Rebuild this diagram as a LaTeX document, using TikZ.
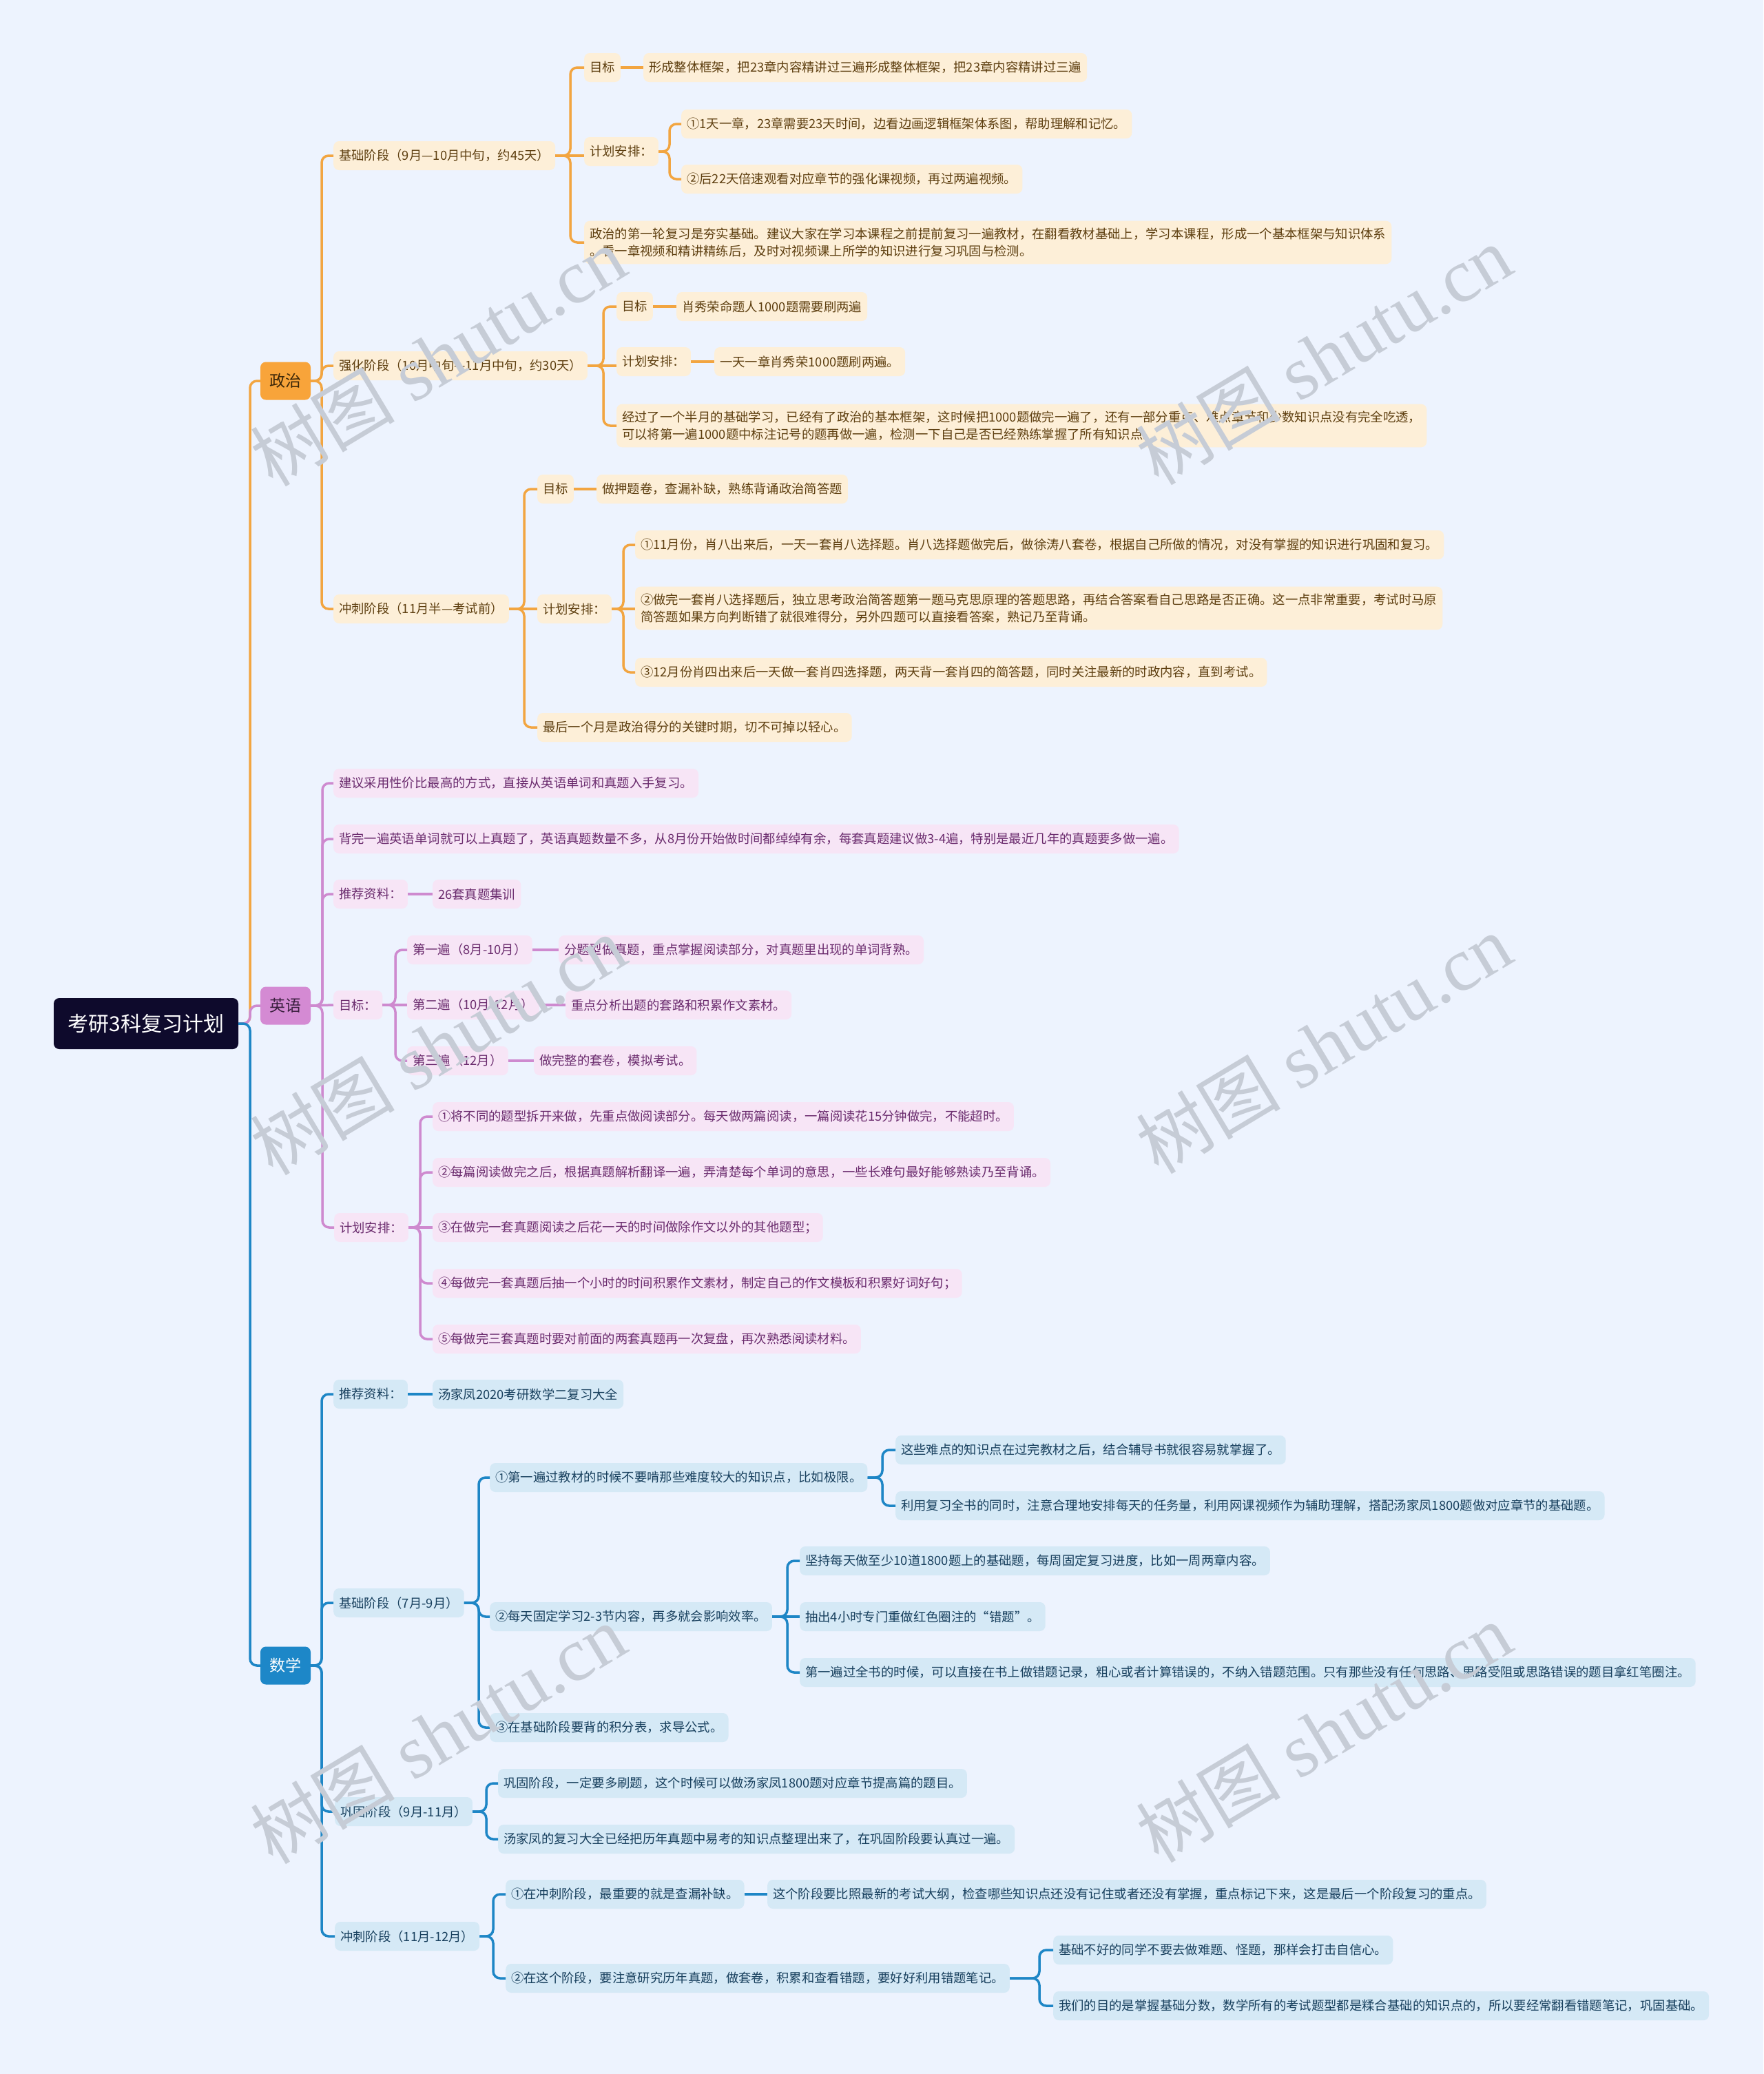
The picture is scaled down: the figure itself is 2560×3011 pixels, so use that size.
\documentclass[tikz,border=0pt]{standalone}
\usepackage{fontspec}
\newfontfamily\cjk{Noto Sans CJK SC}
\newfontfamily\wmf{Liberation Serif}
\definecolor{bgc}{HTML}{EDF3FE}
\definecolor{rootf}{HTML}{0E0A2C}
\definecolor{pmf}{HTML}{F8A43A}
\definecolor{pmt}{HTML}{3A2608}
\definecolor{pzf}{HTML}{FDEFD8}
\definecolor{pzt}{HTML}{5E3F10}
\definecolor{loc}{HTML}{F2A541}
\definecolor{emf}{HTML}{D48AD3}
\definecolor{emt}{HTML}{3A1F3E}
\definecolor{enf}{HTML}{F7E5F6}
\definecolor{ent}{HTML}{6B2C6E}
\definecolor{lpc}{HTML}{CE8ACF}
\definecolor{mmf}{HTML}{1D87C8}
\definecolor{maf}{HTML}{D5E9F6}
\definecolor{mat}{HTML}{18405E}
\definecolor{lbc}{HTML}{1E86C6}
\definecolor{wmc}{HTML}{C6CCD6}
\newcommand\lnk[4]{\draw[#1] (#2.east) -- (#2.east -| #4) |- (#3.west);}
\begin{document}
\begin{tikzpicture}[x=1pt,y=-1pt,
  base/.style={rounded corners=8pt,inner xsep=8pt,inner ysep=10pt,minimum height=42pt,anchor=west,align=left,font=\cjk\fontsize{18.35}{25}\selectfont},
  pz/.style={base,fill=pzf,text=pzt},
  en/.style={base,fill=enf,text=ent},
  ma/.style={base,fill=maf,text=mat},
  mainbox/.style={rounded corners=8pt,minimum width=73pt,minimum height=55pt,inner sep=0pt,font=\cjk\fontsize{23}{28}\selectfont},
  lo/.style={draw=loc,line width=3.5pt,rounded corners=10pt},
  lp/.style={draw=lpc,line width=3.5pt,rounded corners=10pt},
  lb/.style={draw=lbc,line width=3.5pt,rounded corners=10pt},
  wm/.style={text=wmc,font=\wmf\fontsize{110}{110}\selectfont,rotate=31,inner sep=0pt}
]
\fill[bgc] (0,0) rectangle (2560,3011);
\useasboundingbox (0,0) rectangle (2560,3011);

% spine coordinates
\coordinate (s0) at (363,0);
\coordinate (sp0) at (467,0);
\coordinate (sp1) at (828,0);
\coordinate (sp1b) at (972,0);
\coordinate (sp2) at (876,0);
\coordinate (sp3) at (761,0);
\coordinate (sp3b) at (905,0);
\coordinate (se0) at (468,0);
\coordinate (se4) at (574,0);
\coordinate (se5) at (610,0);
\coordinate (sm0) at (467,0);
\coordinate (sm2) at (695,0);
\coordinate (sm2a) at (1281,0);
\coordinate (sm2b) at (1143,0);
\coordinate (sm3) at (706,0);
\coordinate (sm4) at (716,0);
\coordinate (sm4b) at (1509,0);

% root and main branches
\node[rounded corners=8pt,fill=rootf,text=white,minimum width=268pt,minimum height=74pt,inner sep=0pt,font=\cjk\fontsize{30}{36}\selectfont] (root) at (212,1486) {考研3科复习计划};
\node[mainbox,fill=pmf,text=pmt] (p) at (414.5,553) {政治};
\node[mainbox,fill=emf,text=emt] (e) at (414.5,1460) {英语};
\node[mainbox,fill=mmf,text=white] (m) at (414.5,2418) {数学};

% ---------------- Politics ----------------
\node[pz] (p1) at (484,226) {基础阶段（9月—10月中旬，约45天）};
\node[pz] (p1a) at (848,98) {目标};
\node[pz] (p1a1) at (934,98) {形成整体框架，把23章内容精讲过三遍形成整体框架，把23章内容精讲过三遍};
\node[pz] (p1b) at (848,220) {计划安排：};
\node[pz] (p1b1) at (989,180) {①1天一章，23章需要23天时间，边看边画逻辑框架体系图，帮助理解和记忆。};
\node[pz] (p1b2) at (989,260) {②后22天倍速观看对应章节的强化课视频，再过两遍视频。};
\node[pz] (p1c) at (848,352) {政治的第一轮复习是夯实基础。建议大家在学习本课程之前提前复习一遍教材，在翻看教材基础上，学习本课程，形成一个基本框架与知识体系\\。看一章视频和精讲精练后，及时对视频课上所学的知识进行复习巩固与检测。};

\node[pz] (p2) at (484,531) {强化阶段（10月中旬—11月中旬，约30天）};
\node[pz] (p2a) at (895,445) {目标};
\node[pz] (p2a1) at (982,445) {肖秀荣命题人1000题需要刷两遍};
\node[pz] (p2b) at (895,525) {计划安排：};
\node[pz] (p2b1) at (1037,525) {一天一章肖秀荣1000题刷两遍。};
\node[pz] (p2c) at (895,618) {经过了一个半月的基础学习，已经有了政治的基本框架，这时候把1000题做完一遍了，还有一部分重点、难点章节和少数知识点没有完全吃透，\\可以将第一遍1000题中标注记号的题再做一遍，检测一下自己是否已经熟练掌握了所有知识点。};

\node[pz] (p3) at (484,884) {冲刺阶段（11月半—考试前）};
\node[pz] (p3a) at (780,710) {目标};
\node[pz] (p3a1) at (866,710) {做押题卷，查漏补缺，熟练背诵政治简答题};
\node[pz] (p3b) at (780,884) {计划安排：};
\node[pz] (p3b1) at (922,791) {①11月份，肖八出来后，一天一套肖八选择题。肖八选择题做完后，做徐涛八套卷，根据自己所做的情况，对没有掌握的知识进行巩固和复习。};
\node[pz] (p3b2) at (922,883) {②做完一套肖八选择题后，独立思考政治简答题第一题马克思原理的答题思路，再结合答案看自己思路是否正确。这一点非常重要，考试时马原\\简答题如果方向判断错了就很难得分，另外四题可以直接看答案，熟记乃至背诵。};
\node[pz] (p3b3) at (922,976) {③12月份肖四出来后一天做一套肖四选择题，两天背一套肖四的简答题，同时关注最新的时政内容，直到考试。};
\node[pz] (p3c) at (780,1056) {最后一个月是政治得分的关键时期，切不可掉以轻心。};

% ---------------- English ----------------
\node[en] (e1) at (484,1137) {建议采用性价比最高的方式，直接从英语单词和真题入手复习。};
\node[en] (e2) at (484,1218) {背完一遍英语单词就可以上真题了，英语真题数量不多，从8月份开始做时间都绰绰有余，每套真题建议做3-4遍，特别是最近几年的真题要多做一遍。};
\node[en] (e3) at (484,1298) {推荐资料：};
\node[en] (e3a) at (628,1298) {26套真题集训};
\node[en] (e4) at (484,1459) {目标：};
\node[en] (e4a) at (591,1379) {第一遍（8月-10月）};
\node[en] (e4a1) at (811,1379) {分题型做真题，重点掌握阅读部分，对真题里出现的单词背熟。};
\node[en] (e4b) at (591,1459) {第二遍（10月-12月）};
\node[en] (e4b1) at (821,1459) {重点分析出题的套路和积累作文素材。};
\node[en] (e4c) at (591,1540) {第三遍（12月）};
\node[en] (e4c1) at (775,1540) {做完整的套卷，模拟考试。};
\node[en] (e5) at (485,1782) {计划安排：};
\node[en] (e5a) at (628,1621) {①将不同的题型拆开来做，先重点做阅读部分。每天做两篇阅读，一篇阅读花15分钟做完，不能超时。};
\node[en] (e5b) at (628,1702) {②每篇阅读做完之后，根据真题解析翻译一遍，弄清楚每个单词的意思，一些长难句最好能够熟读乃至背诵。};
\node[en] (e5c) at (628,1782) {③在做完一套真题阅读之后花一天的时间做除作文以外的其他题型；};
\node[en] (e5d) at (628,1863) {④每做完一套真题后抽一个小时的时间积累作文素材，制定自己的作文模板和积累好词好句；};
\node[en] (e5e) at (628,1944) {⑤每做完三套真题时要对前面的两套真题再一次复盘，再次熟悉阅读材料。};

% ---------------- Math ----------------
\node[ma] (m1) at (484,2024) {推荐资料：};
\node[ma] (m1a) at (628,2024) {汤家凤2020考研数学二复习大全};
\node[ma] (m2) at (484,2327) {基础阶段（7月-9月）};
\node[ma] (m2a) at (711,2145) {①第一遍过教材的时候不要啃那些难度较大的知识点，比如极限。};
\node[ma] (m2a1) at (1300,2105) {这些难点的知识点在过完教材之后，结合辅导书就很容易就掌握了。};
\node[ma] (m2a2) at (1300,2186) {利用复习全书的同时，注意合理地安排每天的任务量，利用网课视频作为辅助理解，搭配汤家凤1800题做对应章节的基础题。};
\node[ma] (m2b) at (711,2347) {②每天固定学习2-3节内容，再多就会影响效率。};
\node[ma] (m2b1) at (1161,2266) {坚持每天做至少10道1800题上的基础题，每周固定复习进度，比如一周两章内容。};
\node[ma] (m2b2) at (1161,2347) {抽出4小时专门重做红色圈注的“错题”。};
\node[ma] (m2b3) at (1161,2428) {第一遍过全书的时候，可以直接在书上做错题记录，粗心或者计算错误的，不纳入错题范围。只有那些没有任何思路、思路受阻或思路错误的题目拿红笔圈注。};
\node[ma] (m2c) at (711,2508) {③在基础阶段要背的积分表，求导公式。};
\node[ma] (m3) at (486,2630) {巩固阶段（9月-11月）};
\node[ma] (m3a) at (723,2589) {巩固阶段，一定要多刷题，这个时候可以做汤家凤1800题对应章节提高篇的题目。};
\node[ma] (m3b) at (723,2670) {汤家凤的复习大全已经把历年真题中易考的知识点整理出来了，在巩固阶段要认真过一遍。};
\node[ma] (m4) at (486,2811) {冲刺阶段（11月-12月）};
\node[ma] (m4a) at (734,2750) {①在冲刺阶段，最重要的就是查漏补缺。};
\node[ma] (m4a1) at (1114,2750) {这个阶段要比照最新的考试大纲，检查哪些知识点还没有记住或者还没有掌握，重点标记下来，这是最后一个阶段复习的重点。};
\node[ma] (m4b) at (734,2872) {②在这个阶段，要注意研究历年真题，做套卷，积累和查看错题，要好好利用错题笔记。};
\node[ma] (m4b1) at (1529,2831) {基础不好的同学不要去做难题、怪题，那样会打击自信心。};
\node[ma] (m4b2) at (1529,2912) {我们的目的是掌握基础分数，数学所有的考试题型都是糅合基础的知识点的，所以要经常翻看错题笔记，巩固基础。};

% ---------------- connectors ----------------
\lnk{lo}{root}{p}{s0}
\lnk{lp}{root}{e}{s0}
\lnk{lb}{root}{m}{s0}

\lnk{lo}{p}{p1}{sp0}
\lnk{lo}{p}{p2}{sp0}
\lnk{lo}{p}{p3}{sp0}
\lnk{lo}{p1}{p1a}{sp1}
\draw[lo] (p1.east) -- (p1.east -| p1b.west);
\lnk{lo}{p1}{p1c}{sp1}
\draw[lo] (p1a.east) -- (p1a1.west);
\lnk{lo}{p1b}{p1b1}{sp1b}
\lnk{lo}{p1b}{p1b2}{sp1b}
\lnk{lo}{p2}{p2a}{sp2}
\draw[lo] (p2.east) -- (p2.east -| p2b.west);
\lnk{lo}{p2}{p2c}{sp2}
\draw[lo] (p2a.east) -- (p2a1.west);
\draw[lo] (p2b.east) -- (p2b1.west);
\lnk{lo}{p3}{p3a}{sp3}
\draw[lo] (p3.east) -- (p3b.west);
\lnk{lo}{p3}{p3c}{sp3}
\draw[lo] (p3a.east) -- (p3a1.west);
\lnk{lo}{p3b}{p3b1}{sp3b}
\draw[lo] (p3b.east) -- (p3b.east -| p3b2.west);
\lnk{lo}{p3b}{p3b3}{sp3b}

\lnk{lp}{e}{e1}{se0}
\lnk{lp}{e}{e2}{se0}
\lnk{lp}{e}{e3}{se0}
\draw[lp] (e.east) -- (e4.west);
\lnk{lp}{e}{e5}{se0}
\draw[lp] (e3.east) -- (e3a.west);
\lnk{lp}{e4}{e4a}{se4}
\draw[lp] (e4.east) -- (e4b.west);
\lnk{lp}{e4}{e4c}{se4}
\draw[lp] (e4a.east) -- (e4a1.west);
\draw[lp] (e4b.east) -- (e4b1.west);
\draw[lp] (e4c.east) -- (e4c1.west);
\lnk{lp}{e5}{e5a}{se5}
\lnk{lp}{e5}{e5b}{se5}
\draw[lp] (e5.east) -- (e5c.west);
\lnk{lp}{e5}{e5d}{se5}
\lnk{lp}{e5}{e5e}{se5}

\lnk{lb}{m}{m1}{sm0}
\lnk{lb}{m}{m2}{sm0}
\lnk{lb}{m}{m3}{sm0}
\lnk{lb}{m}{m4}{sm0}
\draw[lb] (m1.east) -- (m1a.west);
\lnk{lb}{m2}{m2a}{sm2}
\lnk{lb}{m2}{m2b}{sm2}
\lnk{lb}{m2}{m2c}{sm2}
\lnk{lb}{m2a}{m2a1}{sm2a}
\lnk{lb}{m2a}{m2a2}{sm2a}
\lnk{lb}{m2b}{m2b1}{sm2b}
\draw[lb] (m2b.east) -- (m2b2.west);
\lnk{lb}{m2b}{m2b3}{sm2b}
\lnk{lb}{m3}{m3a}{sm3}
\lnk{lb}{m3}{m3b}{sm3}
\lnk{lb}{m4}{m4a}{sm4}
\lnk{lb}{m4}{m4b}{sm4}
\draw[lb] (m4a.east) -- (m4a1.west);
\lnk{lb}{m4b}{m4b1}{sm4b}
\lnk{lb}{m4b}{m4b2}{sm4b}

% ---------------- watermarks ----------------
\foreach \wx/\wy [count=\i] in {636/518,1922/516,636/1518,1922/1516,636/2518,1922/2516}
  \node[wm] (wm\i) at (\wx,\wy) {{\cjk\fontsize{105}{105}\selectfont 树图} shutu.cn};
\end{tikzpicture}
\end{document}
